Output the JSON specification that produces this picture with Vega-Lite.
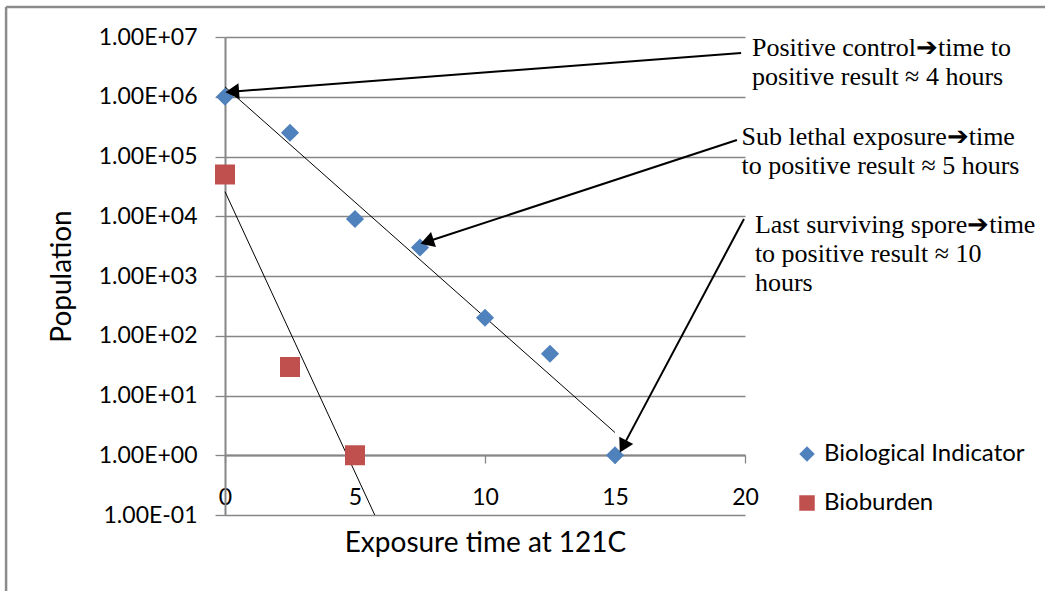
{
  "$schema": "https://vega.github.io/schema/vega-lite/v6.json",
  "width": 520,
  "height": 478,
  "autosize": {"type": "none"},
  "padding": {"left": 225, "top": 37, "right": 300, "bottom": 76},
  "background": "white",
  "datasets": {
    "obs": [
      {"series": "Biological Indicator", "time": 0, "pop": 1000000},
      {"series": "Biological Indicator", "time": 2.5, "pop": 250000},
      {"series": "Biological Indicator", "time": 5, "pop": 9000},
      {"series": "Biological Indicator", "time": 7.5, "pop": 3000},
      {"series": "Biological Indicator", "time": 10, "pop": 200},
      {"series": "Biological Indicator", "time": 12.5, "pop": 50},
      {"series": "Biological Indicator", "time": 15, "pop": 1},
      {"series": "Bioburden", "time": 0, "pop": 50000},
      {"series": "Bioburden", "time": 2.5, "pop": 30},
      {"series": "Bioburden", "time": 5, "pop": 1}
    ],
    "trend": [
      {"series": "Biological Indicator", "time": 0, "pop": 1460000},
      {"series": "Biological Indicator", "time": 15, "pop": 2.4},
      {"series": "Bioburden", "time": 0, "pop": 25800},
      {"series": "Bioburden", "time": 5.76, "pop": 0.1}
    ],
    "arrows": [
      {"id": 1, "sx": 19.85, "sy": 5400000, "ex": 0.365, "ey": 1225000},
      {"id": 2, "sx": 19.69, "sy": 188800, "ex": 7.853, "ey": 3855},
      {"id": 3, "sx": 19.96, "sy": 8995, "ex": 15.35, "ey": 1.52}
    ],
    "notes": [
      {"nx": 20.27, "ny": 4810000, "label": "Positive control➔time to\npositive result ≈ 4 hours"},
      {"nx": 19.87, "ny": 155600, "label": "Sub lethal exposure➔time\nto positive result ≈ 5 hours"},
      {"nx": 20.38, "ny": 5248, "label": "Last surviving spore➔time\nto positive result ≈ 10\nhours"}
    ]
  },
  "config": {
    "font": "Lato",
    "view": {"stroke": null},
    "axis": {
      "domainColor": "#868686",
      "domainWidth": 2,
      "tickColor": "#868686",
      "tickWidth": 1.3,
      "gridColor": "#868686",
      "gridWidth": 1.3,
      "labelFont": "Lato",
      "labelFontSize": 23,
      "labelColor": "#000000",
      "titleFont": "Lato",
      "titleFontSize": 28,
      "titleFontWeight": "normal",
      "titleColor": "#000000"
    }
  },
  "layer": [
    {
      "data": {"values": [{}]},
      "mark": {"type": "rule", "color": "#8c8c8c", "strokeWidth": 2.5},
      "encoding": {
        "x": {"datum": -8.42, "type": "quantitative"},
        "y": {"datum": 31800000, "type": "quantitative"},
        "y2": {"datum": 0.003}
      }
    },
    {
      "data": {"values": [{}]},
      "mark": {"type": "rule", "color": "#8c8c8c", "strokeWidth": 2.5},
      "encoding": {
        "x": {"datum": -8.42, "type": "quantitative"},
        "x2": {"datum": 31.6},
        "y": {"datum": 31800000, "type": "quantitative"}
      }
    },
    {
      "data": {"name": "trend"},
      "mark": {"type": "line", "color": "#000000", "strokeWidth": 1},
      "encoding": {
        "x": {
          "field": "time",
          "type": "quantitative",
          "scale": {"domain": [0, 20], "nice": false, "zero": false},
          "axis": {
            "values": [0, 5, 10, 15, 20],
            "format": "d",
            "offset": -60,
            "grid": false,
            "tickSize": 8,
            "labelPadding": 23,
            "labelFlush": false,
            "titlePadding": 20,
            "title": "Exposure time at 121C"
          }
        },
        "y": {
          "field": "pop",
          "type": "quantitative",
          "scale": {"type": "log", "domain": [0.1, 10000000], "nice": false},
          "axis": {
            "values": [0.1, 1, 10, 100, 1000, 10000, 100000, 1000000, 10000000],
            "labelExpr": "'1.00E' + (datum.value >= 1 ? '+' : '-') + (abs(round(log(datum.value)/LN10)) < 10 ? '0' : '') + abs(round(log(datum.value)/LN10))",
            "grid": true,
            "tickSize": 10,
            "labelPadding": 18,
            "titlePadding": 22,
            "title": "Population"
          }
        },
        "detail": {"field": "series"}
      }
    },
    {
      "data": {"name": "obs"},
      "transform": [{"filter": "datum.series == 'Biological Indicator'"}],
      "mark": {"type": "point", "filled": true, "size": 330, "opacity": 1},
      "encoding": {
        "x": {"field": "time", "type": "quantitative"},
        "y": {"field": "pop", "type": "quantitative"},
        "color": {
          "field": "series",
          "type": "nominal",
          "scale": {"domain": ["Biological Indicator", "Bioburden"], "range": ["#4F81BD", "#C0504D"]},
          "legend": {
            "title": null,
            "orient": "none",
            "legendX": 570,
            "legendY": 405,
            "symbolSize": 240,
            "labelFont": "Lato",
            "labelFontSize": 24,
            "labelColor": "#000000",
            "labelOffset": 5,
            "labelLimit": 0,
            "rowPadding": 25,
            "padding": 0
          }
        },
        "shape": {
          "field": "series",
          "type": "nominal",
          "scale": {"domain": ["Biological Indicator", "Bioburden"], "range": ["diamond", "square"]},
          "legend": {
            "title": null,
            "orient": "none",
            "legendX": 570,
            "legendY": 405,
            "symbolSize": 240,
            "labelFont": "Lato",
            "labelFontSize": 24,
            "labelColor": "#000000",
            "labelOffset": 5,
            "labelLimit": 0,
            "rowPadding": 25,
            "padding": 0
          }
        }
      }
    },
    {
      "data": {"name": "obs"},
      "transform": [{"filter": "datum.series == 'Bioburden'"}],
      "mark": {"type": "point", "filled": true, "size": 400, "opacity": 1},
      "encoding": {
        "x": {"field": "time", "type": "quantitative"},
        "y": {"field": "pop", "type": "quantitative"},
        "color": {"field": "series", "type": "nominal"},
        "shape": {"field": "series", "type": "nominal"}
      }
    },
    {
      "data": {"name": "arrows"},
      "mark": {"type": "rule", "color": "#000000", "strokeWidth": 2},
      "encoding": {
        "x": {"field": "sx", "type": "quantitative"},
        "y": {"field": "sy", "type": "quantitative"},
        "x2": {"field": "ex"},
        "y2": {"field": "ey"}
      }
    },
    {
      "data": {"name": "arrows"},
      "transform": [{"filter": "datum.id == 1"}],
      "mark": {"type": "point", "shape": "triangle", "angle": 265.65, "filled": true, "color": "#000000", "size": 250, "opacity": 1},
      "encoding": {
        "x": {"field": "ex", "type": "quantitative"},
        "y": {"field": "ey", "type": "quantitative"}
      }
    },
    {
      "data": {"name": "arrows"},
      "transform": [{"filter": "datum.id == 2"}],
      "mark": {"type": "point", "shape": "triangle", "angle": 251.84, "filled": true, "color": "#000000", "size": 250, "opacity": 1},
      "encoding": {
        "x": {"field": "ex", "type": "quantitative"},
        "y": {"field": "ey", "type": "quantitative"}
      }
    },
    {
      "data": {"name": "arrows"},
      "transform": [{"filter": "datum.id == 3"}],
      "mark": {"type": "point", "shape": "triangle", "angle": 208.03, "filled": true, "color": "#000000", "size": 250, "opacity": 1},
      "encoding": {
        "x": {"field": "ex", "type": "quantitative"},
        "y": {"field": "ey", "type": "quantitative"}
      }
    },
    {
      "data": {"name": "notes"},
      "mark": {"type": "text", "align": "left", "baseline": "alphabetic", "font": "Liberation Serif", "fontSize": 26, "lineHeight": 29, "lineBreak": "\n", "color": "#000000"},
      "encoding": {
        "x": {"field": "nx", "type": "quantitative"},
        "y": {"field": "ny", "type": "quantitative"},
        "text": {"field": "label"}
      }
    }
  ]
}
